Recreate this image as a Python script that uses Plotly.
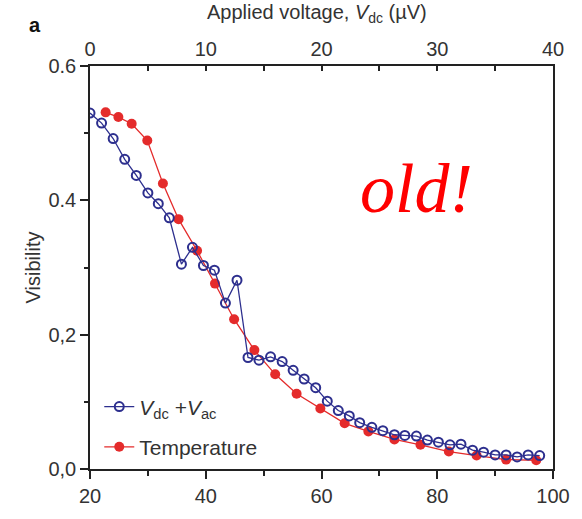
import plotly.graph_objects as go

# Visibility versus applied bias voltage (top axis, µV)
v_dc = [0.0, 1.0, 2.0, 3.0, 4.0, 5.0, 5.9, 6.85, 7.9, 8.85, 9.8, 10.75, 11.7,
        12.7, 13.65, 14.6, 15.6, 16.6, 17.55, 18.5, 19.5, 20.5, 21.45, 22.4,
        23.3, 24.35, 25.3, 26.3, 27.2, 28.2, 29.15, 30.1, 31.1, 32.05, 33.05,
        34.0, 35.0, 35.95, 36.9, 37.85, 38.85]
vis_voltage = [0.530, 0.515, 0.492, 0.461, 0.437, 0.411, 0.395, 0.374, 0.305,
               0.330, 0.303, 0.296, 0.247, 0.281, 0.166, 0.162, 0.167, 0.160,
               0.147, 0.134, 0.121, 0.101, 0.087, 0.079, 0.069, 0.062, 0.057,
               0.051, 0.050, 0.049, 0.043, 0.040, 0.036, 0.037, 0.028, 0.025,
               0.021, 0.021, 0.018, 0.021, 0.020]

# Visibility versus temperature (bottom axis, mK)
temperature = [22.7, 24.9, 27.2, 29.9, 32.6, 35.3, 38.5, 41.6, 44.9, 48.4,
               52.0, 55.7, 59.8, 64.0, 68.1, 72.6, 77.1, 82.0, 86.8, 91.9, 97.1]
vis_temperature = [0.531, 0.524, 0.514, 0.489, 0.425, 0.372, 0.325, 0.276,
                   0.223, 0.177, 0.141, 0.112, 0.090, 0.068, 0.056, 0.044,
                   0.036, 0.026, 0.020, 0.014, 0.013]

y_ticks = [0.0, 0.2, 0.4, 0.6]
y_ticktext = ["0,0", "0,2", "0.4", "0.6"]

BLUE = "#2d2f8e"
RED = "#e42b2b"
AXIS = "#222222"
TEXT = "#333333"
FONT = "Liberation Sans, Arial, sans-serif"

fig = go.Figure()

fig.add_trace(go.Scatter(
    x=v_dc, y=vis_voltage, xaxis="x2", yaxis="y",
    mode="lines+markers",
    name="<i>V</i><sub>dc</sub> +<i>V</i><sub>ac</sub>",
    legendgroup="v",
    line=dict(color=BLUE, width=1.3),
    marker=dict(symbol="circle-open", size=9, color=BLUE,
                line=dict(width=2, color=BLUE)),
))

fig.add_trace(go.Scatter(
    x=temperature, y=vis_temperature, xaxis="x", yaxis="y",
    mode="lines+markers",
    name="Temperature",
    legendgroup="t",
    line=dict(color=RED, width=1.3),
    marker=dict(symbol="circle", size=10, color=RED),
))

fig.update_layout(
    width=582, height=519,
    margin=dict(l=90, r=22, t=66, b=36),
    paper_bgcolor="white", plot_bgcolor="white",
    font=dict(family=FONT, size=20, color=TEXT),
    showlegend=True,
    legend=dict(
        x=0.02, y=0.205, xanchor="left", yanchor="top",
        bgcolor="rgba(0,0,0,0)", font=dict(size=21, color=TEXT),
        tracegroupgap=10, traceorder="grouped",
    ),
    xaxis=dict(
        range=[20, 100], tickvals=[20, 40, 60, 80, 100],
        showline=True, linecolor=AXIS, linewidth=1.5,
        ticks="outside", ticklen=8, tickwidth=1.5, tickcolor=AXIS,
        minor=dict(tickvals=[30, 50, 70, 90], ticks="outside",
                   ticklen=5, tickwidth=1.5, tickcolor=AXIS),
        showgrid=False, zeroline=False,
        tickfont=dict(size=20, color=TEXT),
    ),
    xaxis2=dict(
        range=[0, 40], tickvals=[0, 10, 20, 30, 40],
        overlaying="x", side="top", anchor="y",
        showline=True, linecolor=AXIS, linewidth=1.5,
        ticks="inside", ticklen=5, tickwidth=1.5, tickcolor=AXIS,
        minor=dict(tickvals=[5, 15, 25, 35], ticks="inside",
                   ticklen=5, tickwidth=1.5, tickcolor=AXIS),
        showgrid=False, zeroline=False,
        tickfont=dict(size=20, color=TEXT),
    ),
    yaxis=dict(
        range=[0, 0.6], tickvals=y_ticks, ticktext=y_ticktext,
        showline=True, linecolor=AXIS, linewidth=1.5, mirror=True,
        ticks="outside", ticklen=8, tickwidth=1.5, tickcolor=AXIS,
        minor=dict(tickvals=[0.1, 0.3, 0.5], ticks="outside",
                   ticklen=4, tickwidth=1.5, tickcolor=AXIS),
        showgrid=False, zeroline=False,
        tickfont=dict(size=20, color=TEXT),
        title=dict(text="Visibility", font=dict(size=20, color=TEXT),
                   standoff=2),
    ),
)

# Top-axis title
fig.add_annotation(
    text="Applied voltage, <i>V</i><sub>dc</sub> (µV)",
    xref="paper", yref="paper", x=0.49, y=1.131,
    xanchor="center", yanchor="middle", showarrow=False,
    font=dict(size=20, color=TEXT, family=FONT),
)

# Panel letter
fig.add_annotation(
    text="<b>a</b>", xref="paper", yref="paper", x=-0.135, y=1.07,
    xanchor="left", yanchor="bottom", showarrow=False,
    font=dict(size=20, color="#111111", family=FONT),
)

# Stamp in the upper right of the plot area
fig.add_annotation(
    text="<i>old!</i>", xref="paper", yref="paper", x=0.578, y=0.695,
    xanchor="left", yanchor="middle", showarrow=False,
    font=dict(size=70, color="#ff0000",
              family="Liberation Serif, Times New Roman, serif"),
)

fig.write_html("out.html")
